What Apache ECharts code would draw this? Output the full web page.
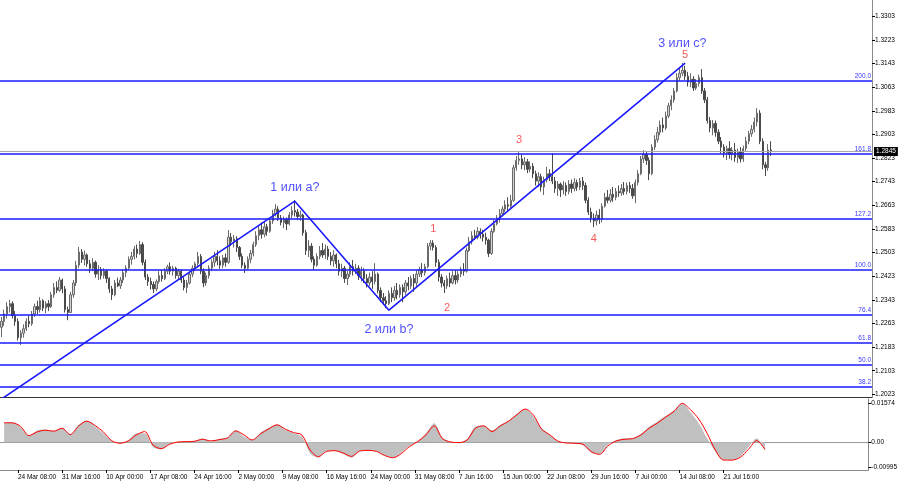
<!DOCTYPE html>
<html><head><meta charset="utf-8">
<script src="https://cdn.jsdelivr.net/npm/echarts/dist/echarts.min.js"></script>
<style>html,body{margin:0;padding:0;background:#fff}#c{width:900px;height:485px}</style>
</head><body><div id="c"></div><script>
// ---- price candles (8-hour bars) ----
const openP = [1.2250,1.2270,1.2295,1.2320,1.2330,1.2290,1.2270,1.2215,1.2230,1.2245,
1.2270,1.2262,1.2295,1.2320,1.2310,1.2340,1.2315,1.2330,1.2320,1.2360,
1.2385,1.2375,1.2410,1.2380,1.2310,1.2300,1.2360,1.2400,1.2460,1.2505,
1.2480,1.2495,1.2465,1.2450,1.2470,1.2430,1.2445,1.2425,1.2440,1.2415,
1.2380,1.2360,1.2400,1.2390,1.2410,1.2435,1.2450,1.2480,1.2490,1.2515,
1.2500,1.2530,1.2470,1.2420,1.2405,1.2395,1.2380,1.2405,1.2425,1.2415,
1.2440,1.2455,1.2440,1.2450,1.2425,1.2440,1.2410,1.2385,1.2400,1.2430,
1.2450,1.2465,1.2490,1.2440,1.2400,1.2425,1.2450,1.2470,1.2490,1.2475,
1.2460,1.2485,1.2470,1.2555,1.2540,1.2550,1.2520,1.2490,1.2460,1.2450,
1.2480,1.2500,1.2530,1.2560,1.2580,1.2565,1.2590,1.2575,1.2610,1.2635,
1.2650,1.2620,1.2605,1.2615,1.2600,1.2630,1.2645,1.2640,1.2625,1.2630,
1.2570,1.2510,1.2525,1.2480,1.2460,1.2490,1.2510,1.2495,1.2515,1.2490,
1.2475,1.2495,1.2465,1.2440,1.2450,1.2415,1.2430,1.2455,1.2440,1.2450,
1.2425,1.2440,1.2415,1.2400,1.2420,1.2405,1.2430,1.2375,1.2350,1.2340,
1.2330,1.2365,1.2350,1.2375,1.2360,1.2385,1.2370,1.2400,1.2390,1.2415,
1.2400,1.2430,1.2445,1.2435,1.2455,1.2525,1.2535,1.2520,1.2470,1.2420,
1.2400,1.2390,1.2415,1.2400,1.2425,1.2410,1.2430,1.2445,1.2440,1.2510,
1.2540,1.2560,1.2555,1.2575,1.2565,1.2555,1.2545,1.2500,1.2575,1.2600,
1.2620,1.2635,1.2650,1.2665,1.2660,1.2680,1.2790,1.2815,1.2820,1.2800,
1.2810,1.2785,1.2795,1.2770,1.2745,1.2760,1.2725,1.2750,1.2770,1.2760,
1.2745,1.2720,1.2735,1.2715,1.2730,1.2710,1.2735,1.2720,1.2740,1.2725,
1.2745,1.2730,1.2680,1.2640,1.2620,1.2610,1.2630,1.2615,1.2660,1.2690,
1.2680,1.2700,1.2690,1.2710,1.2705,1.2720,1.2710,1.2730,1.2720,1.2695,
1.2740,1.2770,1.2820,1.2835,1.2815,1.2770,1.2860,1.2885,1.2910,1.2935,
1.2925,1.2965,1.3000,1.3020,1.3050,1.3095,1.3110,1.3120,1.3100,1.3080,
1.3090,1.3060,1.3075,1.3095,1.3050,1.3020,1.2950,1.2925,1.2940,1.2910,
1.2880,1.2860,1.2840,1.2855,1.2835,1.2850,1.2825,1.2845,1.2820,1.2855,
1.2880,1.2905,1.2920,1.2945,1.2975,1.2880,1.2800,1.2790,1.2850];
const closeP = [1.2270,1.2295,1.2320,1.2330,1.2290,1.2270,1.2215,1.2230,1.2245,1.2270,
1.2262,1.2295,1.2320,1.2310,1.2340,1.2315,1.2330,1.2320,1.2360,1.2385,
1.2375,1.2410,1.2380,1.2310,1.2300,1.2360,1.2400,1.2460,1.2505,1.2480,
1.2495,1.2465,1.2450,1.2470,1.2430,1.2445,1.2425,1.2440,1.2415,1.2380,
1.2360,1.2400,1.2390,1.2410,1.2435,1.2450,1.2480,1.2490,1.2515,1.2500,
1.2530,1.2470,1.2420,1.2405,1.2395,1.2380,1.2405,1.2425,1.2415,1.2440,
1.2455,1.2440,1.2450,1.2425,1.2440,1.2410,1.2385,1.2400,1.2430,1.2450,
1.2465,1.2490,1.2440,1.2400,1.2425,1.2450,1.2470,1.2490,1.2475,1.2460,
1.2485,1.2470,1.2555,1.2540,1.2550,1.2520,1.2490,1.2460,1.2450,1.2480,
1.2500,1.2530,1.2560,1.2580,1.2565,1.2590,1.2575,1.2610,1.2635,1.2650,
1.2620,1.2605,1.2615,1.2600,1.2630,1.2645,1.2640,1.2625,1.2630,1.2570,
1.2510,1.2525,1.2480,1.2460,1.2490,1.2510,1.2495,1.2515,1.2490,1.2475,
1.2495,1.2465,1.2440,1.2450,1.2415,1.2430,1.2455,1.2440,1.2450,1.2425,
1.2440,1.2415,1.2400,1.2420,1.2405,1.2430,1.2375,1.2350,1.2340,1.2330,
1.2365,1.2350,1.2375,1.2360,1.2385,1.2370,1.2400,1.2390,1.2415,1.2400,
1.2430,1.2445,1.2435,1.2455,1.2525,1.2535,1.2520,1.2470,1.2420,1.2400,
1.2390,1.2415,1.2400,1.2425,1.2410,1.2430,1.2445,1.2440,1.2510,1.2540,
1.2560,1.2555,1.2575,1.2565,1.2555,1.2545,1.2500,1.2575,1.2600,1.2620,
1.2635,1.2650,1.2665,1.2660,1.2680,1.2790,1.2815,1.2820,1.2800,1.2810,
1.2785,1.2795,1.2770,1.2745,1.2760,1.2725,1.2750,1.2770,1.2760,1.2745,
1.2720,1.2735,1.2715,1.2730,1.2710,1.2735,1.2720,1.2740,1.2725,1.2745,
1.2730,1.2680,1.2640,1.2620,1.2610,1.2630,1.2615,1.2660,1.2690,1.2680,
1.2700,1.2690,1.2710,1.2705,1.2720,1.2710,1.2730,1.2720,1.2695,1.2740,
1.2770,1.2820,1.2835,1.2815,1.2770,1.2860,1.2885,1.2910,1.2935,1.2925,
1.2965,1.3000,1.3020,1.3050,1.3095,1.3110,1.3120,1.3100,1.3080,1.3090,
1.3060,1.3075,1.3095,1.3050,1.3020,1.2950,1.2925,1.2940,1.2910,1.2880,
1.2860,1.2840,1.2855,1.2835,1.2850,1.2825,1.2845,1.2820,1.2855,1.2880,
1.2905,1.2920,1.2945,1.2975,1.2880,1.2800,1.2790,1.2850,1.2845];
const lowP = [1.2217,1.2255,1.2280,1.2300,1.2280,1.2255,1.2205,1.2190,1.2215,1.2238,
1.2250,1.2255,1.2285,1.2295,1.2300,1.2305,1.2298,1.2305,1.2315,1.2350,
1.2366,1.2370,1.2365,1.2300,1.2274,1.2298,1.2350,1.2390,1.2450,1.2468,
1.2460,1.2455,1.2434,1.2440,1.2418,1.2410,1.2412,1.2415,1.2400,1.2366,
1.2342,1.2355,1.2386,1.2380,1.2400,1.2420,1.2445,1.2462,1.2480,1.2485,
1.2495,1.2460,1.2410,1.2390,1.2378,1.2366,1.2372,1.2398,1.2405,1.2410,
1.2430,1.2428,1.2425,1.2415,1.2410,1.2400,1.2375,1.2366,1.2395,1.2420,
1.2440,1.2455,1.2430,1.2386,1.2390,1.2415,1.2440,1.2455,1.2460,1.2448,
1.2450,1.2455,1.2465,1.2525,1.2520,1.2505,1.2478,1.2450,1.2434,1.2445,
1.2467,1.2490,1.2522,1.2545,1.2550,1.2555,1.2560,1.2570,1.2600,1.2625,
1.2610,1.2595,1.2585,1.2579,1.2595,1.2620,1.2625,1.2613,1.2610,1.2560,
1.2495,1.2488,1.2470,1.2444,1.2455,1.2480,1.2485,1.2482,1.2478,1.2460,
1.2455,1.2450,1.2425,1.2420,1.2400,1.2393,1.2420,1.2425,1.2430,1.2410,
1.2405,1.2400,1.2385,1.2390,1.2380,1.2395,1.2365,1.2335,1.2325,1.2315,
1.2325,1.2335,1.2340,1.2345,1.2350,1.2335,1.2360,1.2375,1.2380,1.2370,
1.2390,1.2420,1.2420,1.2425,1.2450,1.2511,1.2510,1.2455,1.2405,1.2385,
1.2366,1.2380,1.2386,1.2395,1.2395,1.2400,1.2420,1.2425,1.2435,1.2505,
1.2530,1.2545,1.2548,1.2550,1.2540,1.2530,1.2488,1.2495,1.2570,1.2595,
1.2605,1.2625,1.2640,1.2645,1.2650,1.2675,1.2780,1.2800,1.2785,1.2782,
1.2772,1.2775,1.2755,1.2730,1.2725,1.2710,1.2698,1.2740,1.2745,1.2735,
1.2705,1.2695,1.2691,1.2700,1.2695,1.2700,1.2705,1.2710,1.2712,1.2715,
1.2715,1.2670,1.2630,1.2605,1.2589,1.2595,1.2600,1.2605,1.2655,1.2670,
1.2672,1.2675,1.2680,1.2692,1.2695,1.2698,1.2700,1.2705,1.2685,1.2670,
1.2730,1.2765,1.2806,1.2800,1.2748,1.2765,1.2850,1.2875,1.2900,1.2910,
1.2918,1.2958,1.2985,1.3010,1.3045,1.3085,1.3100,1.3087,1.3065,1.3063,
1.3050,1.3053,1.3065,1.3040,1.3009,1.2940,1.2910,1.2900,1.2895,1.2870,
1.2840,1.2825,1.2816,1.2820,1.2815,1.2810,1.2806,1.2808,1.2810,1.2845,
1.2870,1.2895,1.2910,1.2930,1.2870,1.2785,1.2762,1.2780,1.2830];
const highP = [1.2285,1.2310,1.2335,1.2343,1.2338,1.2305,1.2280,1.2240,1.2260,1.2280,
1.2290,1.2305,1.2330,1.2340,1.2352,1.2345,1.2338,1.2342,1.2370,1.2400,
1.2405,1.2420,1.2415,1.2390,1.2320,1.2370,1.2410,1.2475,1.2522,1.2515,
1.2510,1.2500,1.2478,1.2484,1.2476,1.2460,1.2454,1.2450,1.2446,1.2420,
1.2390,1.2410,1.2418,1.2420,1.2445,1.2460,1.2490,1.2505,1.2525,1.2530,
1.2542,1.2538,1.2480,1.2430,1.2418,1.2405,1.2412,1.2440,1.2444,1.2450,
1.2462,1.2470,1.2458,1.2455,1.2448,1.2445,1.2420,1.2410,1.2440,1.2460,
1.2472,1.2505,1.2498,1.2450,1.2435,1.2460,1.2480,1.2505,1.2511,1.2490,
1.2495,1.2500,1.2579,1.2569,1.2562,1.2558,1.2525,1.2500,1.2470,1.2490,
1.2512,1.2540,1.2575,1.2595,1.2605,1.2610,1.2600,1.2620,1.2648,1.2667,
1.2660,1.2630,1.2625,1.2622,1.2640,1.2660,1.2681,1.2650,1.2645,1.2635,
1.2580,1.2545,1.2535,1.2490,1.2500,1.2525,1.2535,1.2530,1.2525,1.2505,
1.2511,1.2500,1.2478,1.2465,1.2458,1.2440,1.2470,1.2478,1.2465,1.2460,
1.2455,1.2450,1.2430,1.2435,1.2440,1.2467,1.2435,1.2385,1.2366,1.2355,
1.2375,1.2385,1.2390,1.2400,1.2395,1.2395,1.2410,1.2420,1.2425,1.2430,
1.2444,1.2455,1.2467,1.2465,1.2535,1.2545,1.2545,1.2528,1.2480,1.2430,
1.2410,1.2425,1.2435,1.2440,1.2444,1.2440,1.2455,1.2467,1.2520,1.2556,
1.2575,1.2580,1.2589,1.2585,1.2580,1.2570,1.2550,1.2585,1.2615,1.2630,
1.2650,1.2660,1.2680,1.2690,1.2698,1.2800,1.2830,1.2843,1.2835,1.2826,
1.2820,1.2812,1.2806,1.2780,1.2775,1.2770,1.2760,1.2793,1.2785,1.2840,
1.2759,1.2745,1.2740,1.2745,1.2740,1.2748,1.2750,1.2755,1.2750,1.2755,
1.2759,1.2740,1.2690,1.2655,1.2635,1.2645,1.2650,1.2670,1.2705,1.2715,
1.2718,1.2725,1.2722,1.2730,1.2735,1.2742,1.2740,1.2742,1.2735,1.2750,
1.2782,1.2830,1.2850,1.2845,1.2825,1.2870,1.2900,1.2928,1.2950,1.2960,
1.2980,1.3010,1.3035,1.3060,1.3110,1.3130,1.3145,1.3135,1.3115,1.3110,
1.3100,1.3090,1.3105,1.3124,1.3060,1.3030,1.2962,1.2952,1.2950,1.2920,
1.2894,1.2870,1.2865,1.2880,1.2860,1.2874,1.2855,1.2860,1.2865,1.2895,
1.2915,1.2935,1.2960,1.2992,1.2985,1.2890,1.2810,1.2870,1.2880];

// ---- oscillator (one value per day) ----
const oscHist = [0.00794,0.00807,0.00605,0.00269,0.00471,0.00511,0.00457,0.00578,0.00323,0.00713,
0.00861,0.00632,0.00363,0.00067,-0.00013,0.00081,0.00363,0.00363,-0.00202,-0.00282,
-0.00081,0.00000,0.00013,0.00054,0.00148,0.00027,0.00135,0.00188,0.00484,0.00229,
0.00094,0.00390,0.00578,0.00726,0.00498,0.00363,0.00229,-0.00444,-0.00605,-0.00350,
-0.00350,-0.00471,-0.00619,-0.00350,-0.00323,-0.00363,-0.00538,-0.00605,-0.00417,-0.00148,
0.00040,0.00363,0.00767,0.00188,0.00013,-0.00013,0.00148,0.00632,0.00659,0.00471,
0.00699,0.00861,0.01143,0.01332,0.01036,0.00565,0.00296,0.00054,-0.00013,-0.00040,
-0.00121,-0.00417,-0.00471,-0.00108,0.00081,0.00161,0.00175,0.00336,0.00632,0.00834,
0.01063,0.01278,0.01574,0.01197,0.00767,0.00161,-0.00377,-0.00713,-0.00713,-0.00578,
-0.00202,0.00161,-0.00350];
const oscSignal = [0.00780,0.00780,0.00632,0.00269,0.00417,0.00484,0.00444,0.00565,0.00309,0.00646,
0.00847,0.00673,0.00417,0.00067,-0.00040,0.00054,0.00296,0.00430,-0.00108,-0.00256,
-0.00081,0.00013,0.00027,0.00040,0.00121,0.00054,0.00108,0.00175,0.00457,0.00296,
0.00094,0.00336,0.00538,0.00699,0.00525,0.00390,0.00296,-0.00309,-0.00578,-0.00363,
-0.00336,-0.00430,-0.00565,-0.00350,-0.00323,-0.00363,-0.00525,-0.00619,-0.00457,-0.00175,
0.00027,0.00296,0.00659,0.00148,0.00013,-0.00013,0.00094,0.00565,0.00659,0.00430,
0.00659,0.00847,0.01103,0.01332,0.01089,0.00525,0.00296,0.00040,-0.00027,-0.00040,
-0.00081,-0.00377,-0.00484,-0.00148,0.00054,0.00121,0.00148,0.00296,0.00565,0.00767,
0.01009,0.01237,0.01560,0.01305,0.00928,0.00363,-0.00309,-0.00713,-0.00713,-0.00605,
-0.00282,0.00067,-0.00282];

// ---- axes / annotations ----
const tickLabels = ['24 Mar 08:00','31 Mar 16:00','10 Apr 00:00','17 Apr 08:00','24 Apr 16:00',
'2 May 00:00','9 May 08:00','16 May 16:00','24 May 00:00','31 May 08:00','7 Jun 16:00',
'15 Jun 00:00','22 Jun 08:00','29 Jun 16:00','7 Jul 00:00','14 Jul 08:00','21 Jul 16:00'];
const priceTicks = [1.2023,1.2103,1.2183,1.2263,1.2343,1.2423,1.2503,1.2583,1.2663,1.2743,
1.2823,1.2903,1.2983,1.3063,1.3143,1.3223,1.3303];
const oscTicks = [0.01574, 0, -0.00995];
const fibNames = ['200.0','161.8','127.2','100.0','76.4','61.8','50.0','38.2'];
const fibPrices = [1.3085,1.2839,1.2617,1.2444,1.2292,1.2199,1.2123,1.2049];
const lastPrice = 1.2845;
const wavePathIdx = [0,106,140,247];
const wavePathPrice = [1.2007,1.2677,1.2308,1.3144];
const waveText = ['1 или а?','2 или b?','3 или с?'];
const waveIdx = [106,140,246];
const wavePrice = [1.2722,1.2242,1.3209];
const countText = ['1','2','3','4','5'];
const countIdx = [156,161,187,214,247];
const countPrice = [1.2583,1.2317,1.2884,1.2549,1.3172];

const SLOTS = 315, FIRST_TICK = 6, TICK_STEP = 16, PER_DAY = 3;
const xCats = Array.from({length: SLOTS}, (_, i) => {
  const m = (i - FIRST_TICK) / TICK_STEP;
  return (i >= FIRST_TICK && Number.isInteger(m) && tickLabels[m]) ? tickLabels[m] : '';
});
const oscCats = Array.from({length: SLOTS / PER_DAY}, (_, k) => 'd' + k);
const candles = openP.map((o, i) => [o, closeP[i], lowP[i], highP[i]]);
const FONT = 'Liberation Sans, Arial, sans-serif';
const BLUE = '#1a1aff';

const chart = echarts.init(document.getElementById('c'), null, {renderer: 'canvas'});
chart.setOption({
  animation: false,
  backgroundColor: '#ffffff',
  grid: [
    {left: 0, top: 0, width: 872, height: 397},
    {left: 0, top: 399, width: 872, height: 71}
  ],
  xAxis: [
    {type: 'category', gridIndex: 0, data: xCats, boundaryGap: true,
     axisLine: {show: true, lineStyle: {color: '#333', width: 1}},
     axisTick: {show: false}, axisLabel: {show: false}, splitLine: {show: false}},
    {type: 'category', gridIndex: 1, data: oscCats, boundaryGap: true, position: 'top',
     axisLine: {show: true, lineStyle: {color: '#9a9a9a', width: 1}},
     axisTick: {show: false}, axisLabel: {show: false}, splitLine: {show: false}},
    {type: 'category', gridIndex: 1, data: xCats, boundaryGap: true, position: 'bottom',
     axisLine: {show: true, lineStyle: {color: '#8a8a8a', width: 1}},
     axisTick: {show: true, alignWithLabel: true, length: 3, lineStyle: {color: '#000'},
       interval: (i, v) => v !== ''},
     axisLabel: {show: true, interval: (i, v) => v !== '', align: 'left', margin: 4,
       fontSize: 6.5, color: '#000', fontFamily: FONT},
     splitLine: {show: false}}
  ],
  yAxis: [
    {type: 'value', gridIndex: 0, position: 'right', min: 1.2014, max: 1.3358,
     axisLine: {show: true, lineStyle: {color: '#8a8a8a'}},
     axisTick: {show: true, customValues: priceTicks, length: 3, lineStyle: {color: '#000'}},
     axisLabel: {show: true, customValues: priceTicks, formatter: v => v.toFixed(4),
       fontSize: 6.5, color: '#000', margin: 3, fontFamily: FONT},
     splitLine: {show: false}},
    {type: 'value', gridIndex: 1, position: 'right', min: -0.01109, max: 0.01734,
     axisLine: {show: true, lineStyle: {color: '#8a8a8a'}},
     axisTick: {show: true, customValues: oscTicks, length: 3, lineStyle: {color: '#000'}},
     axisLabel: {show: true, customValues: oscTicks,
       formatter: v => (v === 0 ? '0.00' : String(v)),
       fontSize: 6.5, color: '#000', margin: 3, fontFamily: FONT},
     splitLine: {show: false}}
  ],
  series: [
    {type: 'candlestick', xAxisIndex: 0, yAxisIndex: 0, data: candles, barWidth: 1.8,
     itemStyle: {color: '#d2d2d2', color0: '#4a4a4a', borderColor: '#6a6a6a', borderColor0: '#4a4a4a', borderWidth: 1},
     markLine: {
       symbol: ['none', 'none'], silent: true, animation: false, precision: 5,
       data: fibNames.map((n, j) => ({
         yAxis: fibPrices[j], name: n,
         lineStyle: {color: BLUE, width: 1.5, type: 'solid'},
         label: {show: true, position: 'insideEndTop', formatter: '{b}', color: '#3a3aff',
           fontSize: 6.5, fontFamily: FONT, distance: 1}
       })).concat([{
         yAxis: lastPrice, name: lastPrice.toFixed(4),
         lineStyle: {color: '#a8a8a8', width: 1, type: 'solid'},
         label: {show: true, position: 'end', formatter: '{b}', color: '#fff',
           backgroundColor: '#000', padding: [1, 2, 1, 2], fontSize: 6.5, fontFamily: FONT, distance: 2}
       }])
     }},
    {type: 'line', xAxisIndex: 0, yAxisIndex: 0, clip: true, symbol: 'none',
     data: wavePathIdx.map((x, j) => [x, wavePathPrice[j]]),
     lineStyle: {color: BLUE, width: 1.6}, z: 5},
    {type: 'scatter', xAxisIndex: 0, yAxisIndex: 0, symbolSize: 1,
     itemStyle: {color: 'rgba(0,0,0,0)'},
     data: waveText.map((t, j) => ({name: t, value: [waveIdx[j], wavePrice[j]]})),
     label: {show: true, position: 'inside', formatter: '{b}', color: '#2222ff',
       fontSize: 12.5, fontFamily: FONT}, z: 6},
    {type: 'scatter', xAxisIndex: 0, yAxisIndex: 0, symbolSize: 1,
     itemStyle: {color: 'rgba(0,0,0,0)'},
     data: countText.map((t, j) => ({name: t, value: [countIdx[j], countPrice[j]]})),
     label: {show: true, position: 'inside', formatter: '{b}', color: '#f23030',
       fontSize: 11, fontFamily: FONT}, z: 6},
    {type: 'line', xAxisIndex: 1, yAxisIndex: 1, data: oscHist, symbol: 'none', smooth: 0.3,
     lineStyle: {width: 0}, areaStyle: {color: '#c0c0c0', opacity: 1, origin: 0}},
    {type: 'line', xAxisIndex: 1, yAxisIndex: 1, data: oscSignal, symbol: 'none', smooth: 0.3,
     lineStyle: {color: '#ff0000', width: 1}}
  ]
});
</script></body></html>
